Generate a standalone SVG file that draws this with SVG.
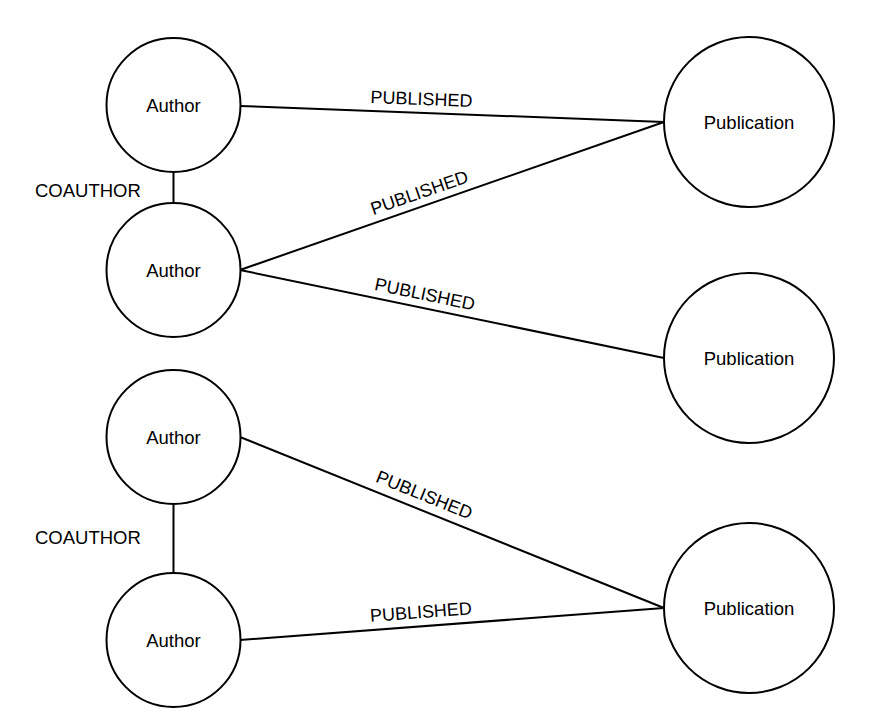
<svg xmlns="http://www.w3.org/2000/svg" width="870" height="719" viewBox="0 0 870 719">
<style>
.n{fill:#fff;stroke:#000;stroke-width:2}
.t{font-family:"Liberation Sans",Arial,sans-serif;font-size:18.5px;fill:#000;text-anchor:middle}
.l{font-family:"Liberation Sans",Arial,sans-serif;font-size:18px;fill:#000;text-anchor:middle}
.e{stroke:#000;stroke-width:2;fill:none}
</style>
<rect width="870" height="719" fill="#fff"/>
<g id="connectors">
<line class="e" x1="173.5" y1="172" x2="173.5" y2="203"/>
<line class="e" x1="173.5" y1="504" x2="173.5" y2="573"/>
<line class="e" x1="240" y1="106" x2="664" y2="122"/>
<line class="e" x1="240" y1="270" x2="664" y2="122"/>
<line class="e" x1="240" y1="270" x2="664" y2="358"/>
<line class="e" x1="240" y1="437" x2="664" y2="608"/>
<line class="e" x1="240" y1="640" x2="664" y2="608"/>
<text class="t" x="35" y="197" style="text-anchor:start">COAUTHOR</text>
<text class="t" x="35" y="544" style="text-anchor:start">COAUTHOR</text>
<text class="l" x="421" y="105" transform="rotate(2.16 421 113)">PUBLISHED</text>
<text class="l" x="424" y="198" transform="rotate(-19.2 424 206)">PUBLISHED</text>
<text class="l" x="422" y="300" transform="rotate(11.7 422 308)">PUBLISHED</text>
<text class="l" x="419" y="500" transform="rotate(22 419 508)">PUBLISHED</text>
<text class="l" x="422" y="618" transform="rotate(-4.3 422 626)">PUBLISHED</text>
</g>
<g id="author1"><circle class="n" cx="173.5" cy="105" r="67"/><text class="t" x="173.5" y="111.5">Author</text></g>
<g id="author2"><circle class="n" cx="173.5" cy="270" r="67"/><text class="t" x="173.5" y="276.5">Author</text></g>
<g id="author3"><circle class="n" cx="173.5" cy="437" r="67"/><text class="t" x="173.5" y="443.5">Author</text></g>
<g id="author4"><circle class="n" cx="173.5" cy="640" r="67"/><text class="t" x="173.5" y="646.5">Author</text></g>
<g id="pub1"><circle class="n" cx="749" cy="122" r="85"/><text class="t" x="749" y="128.5">Publication</text></g>
<g id="pub2"><circle class="n" cx="749" cy="358" r="85"/><text class="t" x="749" y="364.5">Publication</text></g>
<g id="pub3"><circle class="n" cx="749" cy="608" r="85"/><text class="t" x="749" y="614.5">Publication</text></g>
</svg>
